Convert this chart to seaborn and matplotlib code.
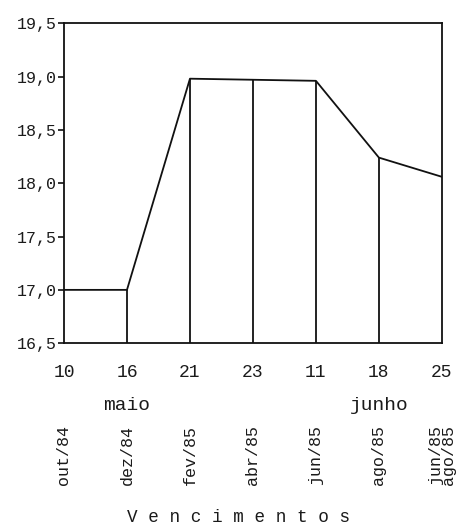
import numpy as np
import pandas as pd
import seaborn as sns
import matplotlib
matplotlib.use('Agg')
import matplotlib.pyplot as plt

sns.set_style('white')
plt.rcParams['font.family'] = ['Liberation Mono', 'DejaVu Sans Mono']

# dados
dias = ['10', '16', '21', '23', '11', '18', '25']
contratos = ['out/84', 'dez/84', 'fev/85', 'abr/85', 'jun/85', 'ago/85', 'jun/85\nago/85']
taxa = [17.0, 17.0, 18.98, 18.97, 18.96, 18.24, 18.06]
yticks = [16.5, 17.0, 17.5, 18.0, 18.5, 19.0, 19.5]
ylabels = ['16,5', '17,0', '17,5', '18,0', '18,5', '19,0', '19,5']
meses = ['maio', 'junho']
meses_pos = [1, 5]

df = pd.DataFrame({'pos': range(len(dias)), 'taxa': taxa})

fig = plt.figure(figsize=(4.62, 5.28), dpi=100)
ax = fig.add_axes([0.1385, 0.35, 0.818, 0.606])

sns.lineplot(data=df, x='pos', y='taxa', color='#111111', linewidth=1.3, ax=ax)
ax.vlines(df['pos'][1:-1], yticks[0], df['taxa'][1:-1], color='#111111', linewidth=1.3)

ax.set_xlim(0, 6)
ax.set_ylim(yticks[0], yticks[-1])
ax.set_yticks(yticks)
ax.set_yticklabels(ylabels, fontsize=12, color='#1a1a1a')
ax.set_xticks(df['pos'])
ax.set_xticklabels(dias, fontsize=13, color='#1a1a1a')
ax.tick_params(axis='y', direction='out', length=4, width=1.2, color='#111111', pad=0.8, left=True)
ax.tick_params(axis='x', length=0, pad=15)
ax.set_xlabel('')
ax.set_ylabel('')
for s in ax.spines.values():
    s.set_color('#111111')
    s.set_linewidth(1.3)

trans = ax.get_xaxis_transform()
for m, p in zip(meses, meses_pos):
    ax.text(p, -0.195, m, transform=trans, ha='center', va='center', fontsize=14, color='#1a1a1a')
for i, c in enumerate(contratos):
    ax.text(i, -0.255, c, transform=trans, ha='center', va='top', rotation=90,
            fontsize=12, color='#1a1a1a', linespacing=0.85)

ax.text(0.463, -0.545, 'V e n c i m e n t o s', transform=ax.transAxes, ha='center', va='center',
        fontsize=12.7, color='#1a1a1a')

fig.savefig('out.png', dpi=100, facecolor='white')
